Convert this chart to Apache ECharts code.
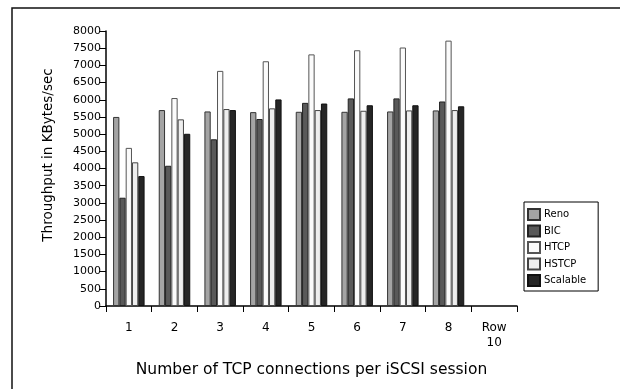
<!DOCTYPE html>
<html><head><meta charset="utf-8">
<script src="https://cdn.jsdelivr.net/npm/echarts@6/dist/echarts.min.js"></script>
<style>html,body{margin:0;padding:0;background:#fff}#c{width:620px;height:389px}</style>
</head><body><div id="c"></div>
<script>
const categories = ['1','2','3','4','5','6','7','8','Row\n10'];
const reno     = [5500, 5700, 5660, 5640, 5650, 5650, 5660, 5690, null];
const bic      = [3150, 4080, 4850, 5440, 5910, 6040, 6040, 5950, null];
const htcp     = [4600, 6050, 6840, 7120, 7320, 7440, 7520, 7720, null];
const hstcp    = [4180, 5430, 5730, 5750, 5700, 5680, 5690, 5700, null];
const scalable = [3780, 5010, 5700, 6010, 5890, 5840, 5840, 5810, null];
const seriesNames = ['Reno','BIC','HTCP','HSTCP','Scalable'];
const yTicks = {min:0, max:8000, step:500};

const fills = ['#a4a4a4','#595959','#fbfbfb','#eeeeee','#262626'];
const borders = ['#333','#222','#555','#444','#111'];
const font = 'DejaVu Sans';
const chart = echarts.init(document.getElementById('c'));
const dataSets = [reno,bic,htcp,hstcp,scalable];
chart.setOption({
  animation:false,
  backgroundColor:'#fff',
  textStyle:{fontFamily:font},
  grid:{left:106, top:31, width:411, bottom:83, containLabel:false},
  legend:{
    orient:'vertical', left:524, top:202, data:seriesNames,
    icon:'rect', itemWidth:12, itemHeight:11, itemGap:3.5,
    borderColor:'#000', borderWidth:1, padding:[6,12,4,3],
    textStyle:{fontFamily:font, fontSize:10, color:'#000', padding:[0,0,0,-1]}
  },
  xAxis:{
    type:'category', data:categories, boundaryGap:true,
    axisLine:{lineStyle:{color:'#000', width:1.5}},
    axisTick:{show:true, alignWithLabel:false, length:6, lineStyle:{color:'#000', width:1}},
    axisLabel:{color:'#000', fontSize:12, margin:14, lineHeight:15, fontFamily:font},
    name:'Number of TCP connections per iSCSI session', nameLocation:'middle', nameGap:56,
    nameTextStyle:{color:'#000', fontSize:15.5, fontFamily:font}
  },
  yAxis:{
    type:'value', min:yTicks.min, max:yTicks.max, interval:yTicks.step,
    splitLine:{show:false},
    axisLine:{show:true, lineStyle:{color:'#000', width:1.5}},
    axisTick:{show:true, length:7, lineStyle:{color:'#000', width:1}},
    axisLabel:{color:'#000', fontSize:11, margin:5, fontFamily:font, formatter:v=>String(v)}
  },
  graphic:[
    {type:'rect', shape:{x:12, y:8, width:700, height:500}, style:{fill:'none', stroke:'#111', lineWidth:1.5}, silent:true, z:-1},
    {type:'text', x:48, y:155, rotation:Math.PI/2, style:{text:'Throughput in KBytes/sec', fontFamily:font, fontSize:13.5, fill:'#000', align:'center', verticalAlign:'middle'}}
  ],
  series: seriesNames.map((n,i)=>({
    name:n, type:'bar', data:dataSets[i], barGap:'0%', barCategoryGap:'31%',
    itemStyle:{color:fills[i], borderColor:borders[i], borderWidth:1}
  }))
});
</script></body></html>
